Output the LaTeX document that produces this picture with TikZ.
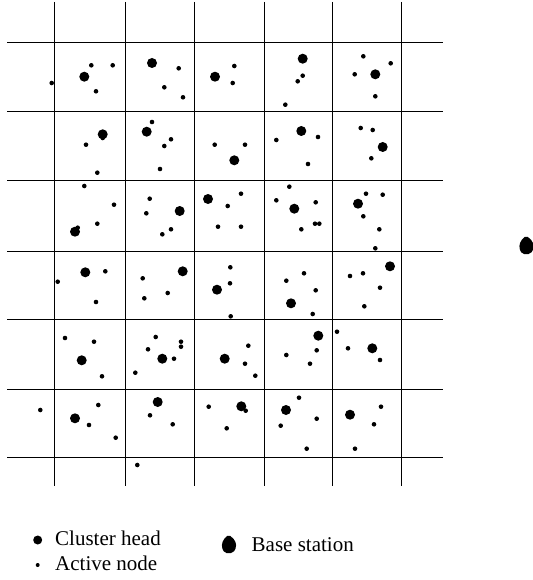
\documentclass[tikz,border=0pt]{standalone}
\usepackage{fontspec}
\setmainfont{Liberation Serif}
\usepackage{tikz}
\usetikzlibrary{positioning}

\begin{document}
\begin{tikzpicture}[
  x=1pt, y=-1pt,
  gridline/.style={draw=black, line width=0.9pt},
  head/.style={circle, fill=black, inner sep=0pt, minimum size=10pt},
  active/.style={circle, fill=black, inner sep=0pt, minimum size=4.6pt},
  legend/.style={anchor=base west, inner sep=0pt, font=\fontsize{21}{25}\selectfont},
  bstation/.pic={\fill[rounded corners=2pt] (-0.5,-9.5) -- (6,-4) -- (7.5,3) -- (4,9) -- (-4.5,9) -- (-7.5,3) -- (-6,-4) -- cycle;}
]
  \useasboundingbox (0,0) rectangle (532,580);

  \foreach \gx in {54.5,125.5,194.5,264,332,401}
    \draw[gridline] (\gx,2) -- (\gx,486);
  \foreach \gy in {42,111,180,251,319,389,457}
    \draw[gridline] (7,\gy) -- (443,\gy);

  \foreach \x/\y [count=\i] in {84.3/76.7, 152/63, 215/76.7, 302.7/58.7, 375.3/74.3,
      102.7/134.3, 146.7/131.7, 234.3/160.3, 301.3/131, 382.7/147,
      75/231.7, 179.7/211, 208/199, 294.3/208.7, 358/203.7,
      85.3/272.3, 182.7/271.3, 217/289.7, 291/303.3, 390/266.3,
      81.7/360.3, 162.3/358.7, 224.7/358.7, 318.3/335.7, 372.3/348.3,
      75/418.3, 157.7/402, 241.3/406.3, 286/410, 350/414.7}
    \node[head] (h\i) at (\x,\y) {};

  \foreach \x/\y [count=\i] in {51.7/83, 91.3/65.3, 112.7/65.3, 96/91.3, 178.7/68.3, 164.3/87.3,
      183/97.3, 234.3/66, 232.7/83, 302.7/75.7, 297.7/81.3, 285.3/104.7, 363.3/56.3,
      390.7/63.3, 354.7/74.3, 375.3/96.3,
      102.7/138, 86/144.7, 97.3/172.7, 152/122, 171/139.3, 164.3/146, 160/169,
      214.7/144.7, 245/144.7, 276.3/140, 318/137, 308/164, 360.7/128, 372.7/130, 371.3/158.3,
      84.3/186, 114/204.7, 97.3/223.7, 77.7/227.7, 149.7/198.7, 146.3/213.3, 171/229.3,
      162.3/234.3, 241/193.7, 227.7/206, 218/226.7, 241/226.7, 289.3/186.7, 276.3/200.3,
      315.7/202.3, 315/223.7, 319.3/223.7, 301.3/229.3, 366/193.7, 382.7/194.7,
      363.3/216.3, 379.3/229.3, 375.3/248.3,
      57.7/281.7, 105.3/271.3, 96/302, 142.7/278.3, 167.7/293, 144.3/298.3, 230.3/267.3,
      230/283.3, 230.7/316.3, 286.3/280.7, 304/273.3, 315.7/290.3, 312.7/314, 350/276,
      363/273.3, 380/287.7, 364.3/306.3,
      65/338, 94/341.7, 102/376.3, 155.7/337, 148/349.3, 181/341.7, 181/346.7, 174/358.7,
      135.3/372.7, 248.3/345.7, 245/363.7, 255.3/375.7, 316.7/350.3, 286.3/355, 310/363.7,
      337/331.7, 348/348.3, 380/360,
      40.3/410, 98.3/405, 89/425, 115.7/437.7, 150/415.3, 172.7/424.3, 208.7/406.7,
      245.7/410.7, 226.7/428.3, 299/397.7, 280.7/425.7, 316.7/418.7, 306.7/448.7,
      381/406.7, 374/424.3, 355/448.7, 137.3/465}
    \node[active] (a\i) at (\x,\y) {};

  \pic at (526.5,245) {bstation};

  \node[head, minimum size=9pt] (keyhead) at (37.7,540) {};
  \node[active, minimum size=4pt] (keyactive) at (37.7,565) {};
  \node[legend] (lblhead) at (55,545) {Cluster head};
  \node[legend] (lblactive) at (55,570.5) {Active node};
  \pic at (229,544) {bstation};
  \node[legend] (lblbase) at (251.5,551.5) {Base station};
\end{tikzpicture}
\end{document}
